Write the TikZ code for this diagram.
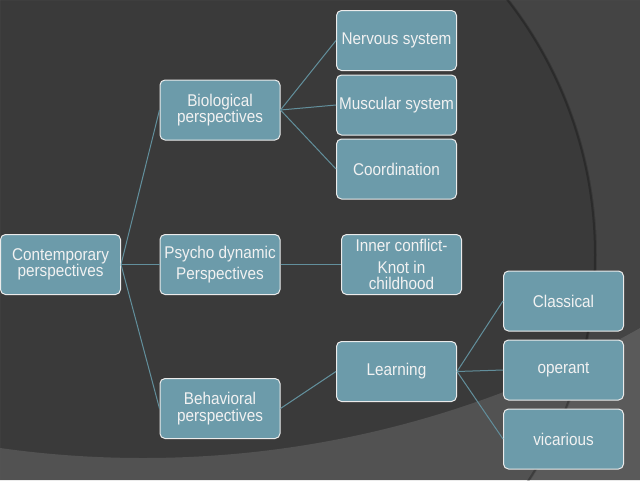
\documentclass[tikz,border=0pt]{standalone}
\usepackage{fontspec}
\setmainfont{Liberation Sans}[FakeStretch=0.9]
\definecolor{bgbase}{RGB}{58,58,58}
\definecolor{bglow}{RGB}{82,82,82}
\definecolor{boxfill}{RGB}{108,155,170}
\definecolor{linkcol}{RGB}{98,143,156}
\begin{document}
\begin{tikzpicture}[x=1pt,y=-1pt,
  box/.style={draw=white!92!black, line width=1pt, fill=boxfill, rounded corners=5pt,
    minimum width=120pt, minimum height=60pt, inner sep=1pt, align=center,
    text=white!95!black, font=\fontsize{17}{16.5}\selectfont},
  link/.style={draw=linkcol, line width=1pt}]
\useasboundingbox (0,0) rectangle (640,480);
\fill[bgbase] (0,0) rectangle (640,480);
\begin{scope}
  \clip (0,0) rectangle (640,480);
  \fill[bglow, even odd rule] (0,0) rectangle (640,480) (143,-556) circle (1014pt);
  \fill[white, opacity=0.05, even odd rule] (0,0) rectangle (640,480) (180,255) circle (417pt);
  \draw[black, opacity=0.25, line width=2pt] (180,255) circle (415pt);
\end{scope}

\node[box] (contemp) at (60.5,264.5) {Contemporary\\perspectives};
\node[box] (bio) at (220,110) {Biological\\perspectives};
\node[box] (psy) at (220,264.5) {Psycho dynamic\\[5pt]Perspectives};
\node[box] (beh) at (220,408.5) {Behavioral\\perspectives};
\node[box] (nerv) at (396.5,40.5) {Nervous system};
\node[box] (musc) at (396.5,105) {Muscular system};
\node[box] (coord) at (396.5,169) {Coordination};
\node[box] (inner) at (401.5,264.5) {Inner conflict-\\[5pt]Knot in\\childhood};
\node[box] (learn) at (396.5,371.5) {Learning};
\node[box] (class) at (563.5,301) {Classical};
\node[box] (oper) at (563.5,370) {operant};
\node[box] (vic) at (563.5,439) {vicarious};

\draw[link] (contemp.east) -- (bio.west);
\draw[link] (contemp.east) -- (psy.west);
\draw[link] (contemp.east) -- (beh.west);
\draw[link] (bio.east) -- (nerv.west);
\draw[link] (bio.east) -- (musc.west);
\draw[link] (bio.east) -- (coord.west);
\draw[link] (psy.east) -- (inner.west);
\draw[link] (beh.east) -- (learn.west);
\draw[link] (learn.east) -- (class.west);
\draw[link] (learn.east) -- (oper.west);
\draw[link] (learn.east) -- (vic.west);
\end{tikzpicture}
\end{document}
